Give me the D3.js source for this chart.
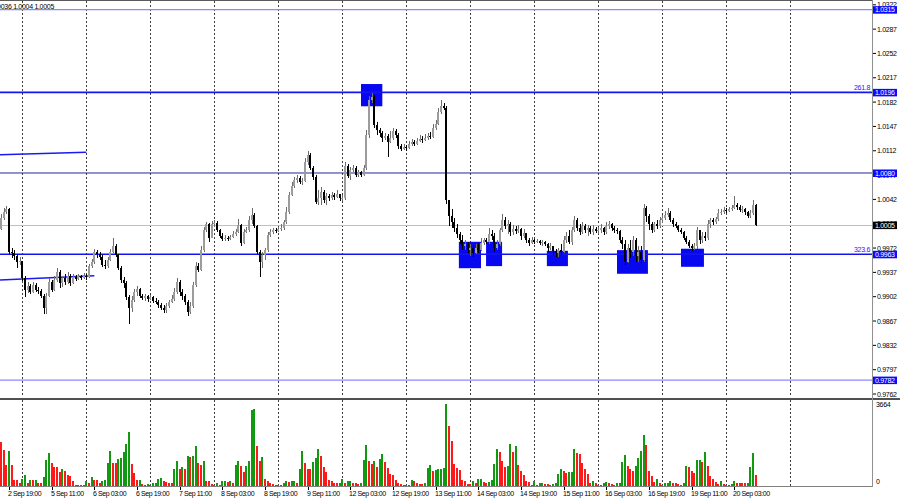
<!DOCTYPE html>
<html>
<head>
<meta charset="utf-8">
<script src="https://cdn.jsdelivr.net/npm/d3@7/dist/d3.min.js"></script>
<style>
  html, body { margin: 0; padding: 0; background: #fff; }
  svg { display: block; font-family: "Liberation Sans", Arial, sans-serif; }
</style>
</head>
<body>
<script>
// EURUSD H1, 2 Sep - 20 Sep
const tradingDays = ["2 Sep", "5 Sep", "6 Sep", "7 Sep", "8 Sep", "9 Sep", "12 Sep", "13 Sep",
    "14 Sep", "15 Sep", "16 Sep", "19 Sep", "20 Sep", "21 Sep"];
const firstHour = 16;   // first visible bar of 2 Sep
const lastHour = 11;    // last bar of 20 Sep

const firstOpen = 0.9999;
const closes = [
    1.0015,1.0024,1.0028,0.9966,0.9965,0.9961,0.9952,0.9953,0.9929,0.9912,0.9917,0.9909,
    0.9919,0.9912,0.9910,0.9903,0.9886,0.9903,0.9923,0.9912,0.9926,0.9938,0.9922,0.9929,
    0.9923,0.9932,0.9922,0.9930,0.9927,0.9932,0.9929,0.9932,0.9930,0.9946,0.9952,0.9966,
    0.9963,0.9959,0.9948,0.9946,0.9955,0.9966,0.9975,0.9962,0.9943,0.9926,0.9922,0.9902,
    0.9886,0.9897,0.9909,0.9913,0.9903,0.9900,0.9903,0.9899,0.9902,0.9896,0.9894,0.9890,
    0.9886,0.9883,0.9889,0.9894,0.9899,0.9909,0.9923,0.9909,0.9903,0.9894,0.9880,0.9889,
    0.9919,0.9946,0.9940,0.9969,0.9998,1.0007,0.9986,1.0007,1.0008,0.9998,0.9989,0.9985,
    0.9986,0.9985,0.9988,0.9992,0.9995,1.0005,0.9979,0.9995,0.9998,1.0012,1.0020,1.0004,
    0.9966,0.9952,0.9962,0.9969,0.9991,0.9995,0.9998,0.9997,0.9999,1.0001,1.0010,1.0024,
    1.0048,1.0061,1.0070,1.0073,1.0067,1.0068,1.0096,1.0106,1.0087,1.0074,1.0038,1.0044,
    1.0053,1.0041,1.0047,1.0044,1.0048,1.0045,1.0050,1.0044,1.0044,1.0090,1.0076,1.0084,
    1.0087,1.0077,1.0081,1.0077,1.0087,1.0135,1.0185,1.0189,1.0149,1.0142,1.0138,1.0130,
    1.0133,1.0125,1.0130,1.0140,1.0135,1.0119,1.0115,1.0117,1.0116,1.0122,1.0125,1.0122,
    1.0126,1.0129,1.0128,1.0130,1.0133,1.0132,1.0145,1.0151,1.0168,1.0176,1.0174,1.0041,
    1.0018,1.0010,1.0001,0.9992,0.9984,0.9975,0.9978,0.9969,0.9972,0.9965,0.9972,0.9969,
    0.9979,0.9984,0.9981,0.9992,0.9989,0.9972,0.9978,0.9998,1.0012,1.0004,1.0007,0.9995,
    0.9999,0.9997,0.9999,0.9989,0.9994,0.9984,0.9979,0.9984,0.9981,0.9982,0.9979,0.9981,
    0.9978,0.9972,0.9975,0.9968,0.9965,0.9969,0.9966,0.9984,0.9989,0.9981,0.9998,1.0012,
    1.0001,0.9995,1.0004,0.9998,1.0001,0.9995,0.9999,0.9997,0.9998,1.0001,0.9995,1.0004,
    1.0007,1.0001,0.9998,0.9997,0.9984,0.9978,0.9952,0.9972,0.9966,0.9984,0.9961,0.9966,
    0.9955,1.0030,1.0018,1.0007,0.9998,1.0007,1.0004,1.0012,1.0015,1.0020,1.0022,1.0012,
    1.0007,1.0004,0.9998,0.9995,0.9986,0.9981,0.9975,0.9972,0.9975,0.9998,0.9984,0.9989,
    0.9986,1.0007,1.0012,1.0010,1.0014,1.0022,1.0024,1.0027,1.0025,1.0028,1.0030,1.0034,
    1.0031,1.0027,1.0028,1.0024,1.0018,1.0022,1.0034,1.0005
];
const highs = [
    1.0021,1.0030,1.0032,1.0030,0.9972,0.9969,0.9963,0.9959,0.9952,0.9932,0.9923,0.9920,
    0.9923,0.9922,0.9916,0.9913,0.9906,0.9907,0.9929,0.9926,0.9932,0.9943,0.9940,0.9932,
    0.9935,0.9938,0.9935,0.9935,0.9933,0.9935,0.9933,0.9936,0.9935,0.9949,0.9956,0.9971,
    0.9969,0.9966,0.9962,0.9955,0.9959,0.9971,0.9986,0.9978,0.9963,0.9946,0.9930,0.9925,
    0.9904,0.9903,0.9913,0.9917,0.9914,0.9906,0.9906,0.9904,0.9904,0.9903,0.9900,0.9897,
    0.9893,0.9890,0.9893,0.9897,0.9904,0.9914,0.9929,0.9926,0.9913,0.9906,0.9897,0.9894,
    0.9923,0.9952,0.9951,0.9975,1.0002,1.0010,1.0008,1.0011,1.0012,1.0011,0.9999,0.9994,
    0.9991,0.9989,0.9991,0.9997,0.9999,1.0014,1.0007,0.9999,1.0002,1.0018,1.0030,1.0022,
    1.0005,0.9969,0.9966,0.9972,0.9995,0.9999,1.0001,1.0001,1.0002,1.0007,1.0012,1.0031,
    1.0053,1.0067,1.0074,1.0077,1.0076,1.0073,1.0102,1.0112,1.0109,1.0090,1.0077,1.0055,
    1.0060,1.0055,1.0051,1.0050,1.0053,1.0051,1.0055,1.0050,1.0048,1.0096,1.0093,1.0089,
    1.0092,1.0090,1.0084,1.0083,1.0092,1.0142,1.0191,1.0195,1.0192,1.0153,1.0145,1.0140,
    1.0138,1.0136,1.0140,1.0145,1.0143,1.0138,1.0122,1.0122,1.0120,1.0126,1.0129,1.0128,
    1.0130,1.0135,1.0133,1.0136,1.0138,1.0139,1.0151,1.0156,1.0174,1.0185,1.0181,1.0176,
    1.0041,1.0028,1.0015,1.0007,0.9995,0.9991,0.9984,0.9981,0.9978,0.9976,0.9978,0.9979,
    0.9986,0.9986,0.9986,1.0001,0.9998,0.9994,0.9984,1.0001,1.0021,1.0017,1.0012,1.0010,
    1.0005,1.0004,1.0005,1.0001,0.9999,0.9994,0.9986,0.9988,0.9985,0.9985,0.9984,0.9984,
    0.9982,0.9979,0.9979,0.9975,0.9971,0.9972,0.9978,0.9989,0.9995,0.9998,1.0002,1.0018,
    1.0015,1.0007,1.0010,1.0007,1.0005,1.0004,1.0005,1.0002,1.0002,1.0007,1.0002,1.0010,
    1.0011,1.0008,1.0004,1.0001,0.9998,0.9988,0.9984,0.9978,0.9984,0.9989,0.9986,0.9975,
    0.9975,1.0035,1.0032,1.0021,1.0010,1.0010,1.0012,1.0017,1.0020,1.0025,1.0030,1.0025,
    1.0015,1.0010,1.0005,1.0001,0.9997,0.9989,0.9984,0.9978,0.9979,1.0002,0.9998,0.9995,
    0.9995,1.0012,1.0015,1.0015,1.0017,1.0028,1.0028,1.0031,1.0030,1.0031,1.0034,1.0047,
    1.0037,1.0034,1.0032,1.0030,1.0025,1.0027,1.0041,1.0036
];
const lows = [
    0.9998,1.0012,1.0021,0.9963,0.9958,0.9955,0.9943,0.9948,0.9925,0.9902,0.9907,0.9906,
    0.9907,0.9909,0.9906,0.9900,0.9877,0.9877,0.9902,0.9909,0.9910,0.9923,0.9914,0.9916,
    0.9919,0.9920,0.9917,0.9920,0.9925,0.9926,0.9926,0.9927,0.9926,0.9929,0.9943,0.9949,
    0.9958,0.9955,0.9945,0.9942,0.9943,0.9953,0.9965,0.9959,0.9940,0.9922,0.9914,0.9897,
    0.9863,0.9880,0.9894,0.9903,0.9900,0.9897,0.9896,0.9894,0.9897,0.9893,0.9891,0.9886,
    0.9883,0.9879,0.9879,0.9886,0.9893,0.9896,0.9906,0.9903,0.9897,0.9890,0.9874,0.9877,
    0.9886,0.9916,0.9938,0.9939,0.9966,0.9995,0.9981,0.9999,1.0002,0.9995,0.9986,0.9982,
    0.9982,0.9982,0.9984,0.9986,0.9989,0.9994,0.9975,0.9978,0.9994,0.9995,1.0007,1.0001,
    0.9963,0.9930,0.9943,0.9955,0.9966,0.9988,0.9992,0.9994,0.9995,0.9997,0.9998,1.0007,
    1.0021,1.0047,1.0058,1.0066,1.0064,1.0063,1.0067,1.0092,1.0084,1.0070,1.0035,1.0034,
    1.0034,1.0037,1.0034,1.0040,1.0041,1.0041,1.0044,1.0040,1.0040,1.0041,1.0073,1.0070,
    1.0081,1.0074,1.0074,1.0074,1.0076,1.0084,1.0130,1.0181,1.0145,1.0135,1.0132,1.0125,
    1.0128,1.0103,1.0123,1.0128,1.0130,1.0115,1.0112,1.0113,1.0112,1.0115,1.0119,1.0119,
    1.0120,1.0125,1.0123,1.0126,1.0128,1.0129,1.0130,1.0142,1.0149,1.0165,1.0171,1.0035,
    1.0004,1.0001,0.9995,0.9986,0.9978,0.9969,0.9969,0.9965,0.9961,0.9959,0.9963,0.9965,
    0.9968,0.9976,0.9978,0.9978,0.9984,0.9966,0.9969,0.9975,0.9995,0.9999,0.9992,0.9989,
    0.9991,0.9992,0.9994,0.9984,0.9986,0.9979,0.9975,0.9978,0.9978,0.9979,0.9976,0.9975,
    0.9975,0.9966,0.9969,0.9962,0.9959,0.9959,0.9962,0.9965,0.9979,0.9978,0.9976,0.9995,
    0.9997,0.9991,0.9992,0.9994,0.9989,0.9992,0.9991,0.9994,0.9992,0.9994,0.9991,0.9992,
    0.9999,0.9997,0.9994,0.9992,0.9979,0.9971,0.9948,0.9951,0.9958,0.9961,0.9952,0.9952,
    0.9951,0.9952,1.0010,0.9998,0.9994,0.9995,0.9999,1.0001,1.0008,1.0012,1.0017,1.0010,
    1.0002,1.0001,0.9995,0.9992,0.9984,0.9978,0.9972,0.9968,0.9969,0.9971,0.9978,0.9979,
    0.9982,0.9984,1.0001,1.0005,1.0007,1.0011,1.0020,1.0021,1.0022,1.0024,1.0025,1.0028,
    1.0027,1.0024,1.0022,1.0020,1.0015,1.0015,1.0020,1.0004
];
const volumes = [
    1980,1635,960,1560,960,255,250,135,
    330,480,150,285,280,290,150,135,390,1155,1500,1035,855,840,630,780,660,480,435,210,60,55,65,60,
    210,150,390,255,250,150,210,285,1035,1575,1050,1045,1200,1275,1530,1875,2400,975,600,255,270,75,60,105,
    60,135,150,330,340,210,200,150,140,780,1110,780,870,780,1335,1290,1350,1785,1050,960,1110,225,210,105,
    60,150,60,210,240,180,240,150,960,1110,885,630,900,1140,3400,3450,1800,1140,1290,330,240,150,90,60,
    60,30,150,210,200,210,220,150,780,1590,1050,750,745,1080,1260,1680,1335,855,630,255,210,150,120,150,
    330,150,210,215,150,140,105,150,1155,1860,1140,1005,1110,840,1230,1455,1080,810,540,480,255,150,105,60,
    60,30,255,210,150,105,100,150,810,960,660,705,750,780,800,3664,2700,2025,1005,825,705,285,210,105,
    100,210,150,330,335,180,150,200,285,1005,1650,1515,1140,840,885,1905,1530,1785,930,690,480,210,180,60,
    210,60,150,155,105,100,60,90,150,555,780,660,600,610,620,1650,1500,1455,1050,750,540,150,210,120,
    60,30,150,160,150,105,60,150,155,1080,1410,900,780,660,900,1260,1560,2280,1830,690,435,180,300,120,
    60,150,155,210,150,120,90,60,150,900,855,660,600,1155,1160,1080,1530,900,435,330,180,105,225,105,
    60,55,105,240,150,140,130,125,150,855,1500,480
];

const priceTicks = ["0.9762","0.9797","0.9832","0.9867","0.9902","0.9937","0.9972","1.0007","1.0042",
    "1.0077","1.0112","1.0147","1.0182","1.0217","1.0252","1.0287","1.0322"];
const timeLabels = ["2 Sep 19:00","5 Sep 11:00","6 Sep 03:00","6 Sep 19:00","7 Sep 11:00","8 Sep 03:00",
    "8 Sep 19:00","9 Sep 11:00","12 Sep 03:00","12 Sep 19:00","13 Sep 11:00","14 Sep 03:00","14 Sep 19:00",
    "15 Sep 11:00","16 Sep 03:00","16 Sep 19:00","19 Sep 11:00","20 Sep 03:00"];

// horizontal levels: price, style kind
const levelPrices = [1.0315, 1.0196, 1.0080, 0.9963, 0.9782];
const levelKinds = ["light", "strong", "thin", "strong", "light"];
const currentPrice = 1.0005;
const fiboLabels = [{text: "261.8", price: 1.0196}, {text: "323.6", price: 0.9963}];
const headerText = "EURUSD,H1  1.0012 1.0036 1.0004 1.0005";
const volumeMaxLabel = 3664;

// boxes: bar from / to, price top / bottom
const zones = [
    {b0: 135, b1: 143, top: 1.0208, bottom: 1.0176},
    {b0: 171.7, b1: 180, top: 0.9981, bottom: 0.9943},
    {b0: 181.9, b1: 187.9, top: 0.9981, bottom: 0.9946},
    {b0: 204.7, b1: 212.6, top: 0.9968, bottom: 0.9946},
    {b0: 231, b1: 242.6, top: 0.9969, bottom: 0.9935},
    {b0: 255, b1: 263.6, top: 0.9971, bottom: 0.9945}
];
// trend lines
const trendLines = [
    {b0: -1, p0: 1.0106, b1: 32, p1: 1.0110},
    {b0: -1, p0: 0.9926, b1: 35, p1: 0.9932}
];

// ---- bar times
const bars = [];
tradingDays.forEach((d, k) => {
    if (k === tradingDays.length - 1) return;
    const h0 = k === 0 ? firstHour : 0;
    const h1 = k === tradingDays.length - 2 ? lastHour : 23;
    for (let h = h0; h <= h1; h++) {
        bars.push({day: d, hour: h, label: d + " " + String(h).padStart(2, "0") + ":00"});
    }
});
const candles = bars.map((b, i) => {
    const o = i === 0 ? firstOpen : closes[i - 1];
    const c = closes[i];
    return {i: i, o: o, c: c, h: Math.max(highs[i], o, c), l: Math.min(lows[i], o, c), v: volumes[i]};
});

const W = 900, H = 500;
const axisX = 872;
const mainTop = 1, mainBottom = 397;
const volTop = 400, volBottom = 486;
const barStep = 8 / 3;

const svg = d3.select("body").append("svg").attr("width", W).attr("height", H);

const x = d3.scaleLinear().domain([0, bars.length - 1]).range([1, 1 + (bars.length - 1) * barStep]);
const y = d3.scaleLinear().domain([0.9762, 1.0322]).range([394, 4.8]);
const yVol = d3.scaleLinear().domain([0, volumeMaxLabel]).range([volBottom, 404.3]);

// ---- vertical grid at day starts (including next day)
const dayStarts = [];
bars.forEach((b, i) => { if (b.hour === 0) dayStarts.push(i); });
dayStarts.push(bars.length + (24 - lastHour - 1));
const grid = svg.append("g").attr("stroke", "#3c3c3c").attr("stroke-dasharray", "2,2").attr("shape-rendering", "crispEdges");
dayStarts.forEach(i => {
    const gx = Math.round(x(i)) + 0.5;
    grid.append("line").attr("x1", gx).attr("x2", gx).attr("y1", mainTop).attr("y2", mainBottom);
    grid.append("line").attr("x1", gx).attr("x2", gx).attr("y1", volTop).attr("y2", volBottom);
});

// ---- zones (background objects)
svg.append("g").selectAll("rect").data(zones).join("rect")
    .attr("x", d => x(d.b0))
    .attr("y", d => y(d.top))
    .attr("width", d => x(d.b1) - x(d.b0))
    .attr("height", d => y(d.bottom) - y(d.top))
    .attr("fill", "#0808f0");

// ---- current price line
svg.append("line")
    .attr("x1", 0).attr("x2", axisX)
    .attr("y1", Math.round(y(currentPrice)) + 0.5).attr("y2", Math.round(y(currentPrice)) + 0.5)
    .attr("stroke", "#c0c0c0").attr("stroke-width", 1);

// ---- horizontal levels
const levelStyle = {
    light: {stroke: "#8a8aff", width: 1.3},
    strong: {stroke: "#1414f0", width: 1.6},
    thin: {stroke: "#26269a", width: 1}
};
levelPrices.forEach((p, k) => {
    const st = levelStyle[levelKinds[k]];
    svg.append("line")
        .attr("x1", 0).attr("x2", axisX)
        .attr("y1", y(p)).attr("y2", y(p))
        .attr("stroke", st.stroke).attr("stroke-width", st.width);
});

// ---- trend lines
const line = d3.line().x(d => x(d[0])).y(d => y(d[1]));
trendLines.forEach(t => {
    svg.append("path")
        .attr("d", line([[t.b0, t.p0], [t.b1, t.p1]]))
        .attr("stroke", "#1a1af0").attr("stroke-width", 1.5).attr("fill", "none");
});

// ---- fibo level texts
svg.append("g").selectAll("text").data(fiboLabels).join("text")
    .attr("x", axisX - 2).attr("y", d => y(d.price) - 2)
    .attr("text-anchor", "end").attr("font-size", 7).attr("letter-spacing", -0.3)
    .attr("fill", "#2020ff").text(d => d.text);

// ---- candles
const cg = svg.append("g").attr("shape-rendering", "crispEdges");
candles.forEach(d => {
    const cx = Math.round(x(d.i));
    const up = d.c >= d.o;
    cg.append("rect")
        .attr("x", cx).attr("width", 1)
        .attr("y", y(d.h)).attr("height", Math.max(1, y(d.l) - y(d.h)))
        .attr("fill", up ? "#6e6e6e" : "#000000");
    const top = y(Math.max(d.o, d.c));
    const bot = y(Math.min(d.o, d.c));
    cg.append("rect")
        .attr("x", cx - 1).attr("width", 2)
        .attr("y", top).attr("height", Math.max(1, bot - top))
        .attr("fill", up ? "#9c9c9c" : "#000000");
});

// ---- volumes
svg.append("g").attr("shape-rendering", "crispEdges")
    .selectAll("rect").data(candles).join("rect")
    .attr("x", d => Math.round(x(d.i)) - 1)
    .attr("width", 2)
    .attr("y", d => yVol(d.v))
    .attr("height", d => volBottom - yVol(d.v))
    .attr("fill", (d, i) => (i > 0 && d.v > candles[i - 1].v) ? "#119a11" : "#ff1a1a");

// ---- frames
const frame = svg.append("g").attr("shape-rendering", "crispEdges");
frame.append("line").attr("x1", 0).attr("x2", axisX).attr("y1", 0.5).attr("y2", 0.5).attr("stroke", "#5a5a5a");
frame.append("line").attr("x1", 0).attr("x2", W).attr("y1", 398.5).attr("y2", 398.5).attr("stroke", "#505050").attr("stroke-width", 2);
frame.append("line").attr("x1", 0).attr("x2", axisX).attr("y1", volBottom + 0.5).attr("y2", volBottom + 0.5).attr("stroke", "#808080");
frame.append("line").attr("x1", axisX + 0.5).attr("x2", axisX + 0.5).attr("y1", 0).attr("y2", volBottom + 1).attr("stroke", "#909090");

// ---- price axis
const pa = svg.append("g").attr("font-size", 7).attr("letter-spacing", -0.3).attr("fill", "#000");
priceTicks.forEach(t => {
    const ty = y(+t);
    pa.append("line").attr("x1", axisX + 1).attr("x2", axisX + 4).attr("y1", ty).attr("y2", ty).attr("stroke", "#000");
    pa.append("text").attr("x", axisX + 5).attr("y", ty + 2.5).text(t);
});

// highlighted labels
const tags = levelPrices.map(p => ({p: p, bg: "#0a0aff"})).concat([{p: currentPrice, bg: "#000000"}]);
tags.forEach(t => {
    const ty = y(t.p);
    svg.append("rect").attr("x", axisX + 1).attr("y", ty - 3.5).attr("width", 24).attr("height", 7.5).attr("fill", t.bg);
    svg.append("text").attr("x", axisX + 3).attr("y", ty + 2.6)
        .attr("font-size", 7).attr("letter-spacing", -0.3).attr("fill", "#fff")
        .text(t.p.toFixed(4));
});

// volume axis labels
svg.append("text").attr("x", axisX + 4).attr("y", 407).attr("font-size", 7).attr("letter-spacing", -0.3).text(volumeMaxLabel);
svg.append("text").attr("x", axisX + 4).attr("y", 484).attr("font-size", 7).text("0");

// ---- time axis
const ta = svg.append("g").attr("font-size", 7).attr("letter-spacing", -0.4).attr("fill", "#000");
timeLabels.forEach(lbl => {
    const i = bars.findIndex(b => b.label === lbl);
    if (i < 0) return;
    const tx = Math.round(x(i));
    ta.append("line").attr("x1", tx + 0.5).attr("x2", tx + 0.5).attr("y1", volBottom + 1).attr("y2", volBottom + 4).attr("stroke", "#000");
    ta.append("text").attr("x", tx - 1).attr("y", 496).text(lbl);
});

// ---- header
svg.append("text").attr("x", 54).attr("y", 9).attr("text-anchor", "end")
    .attr("font-size", 7).attr("letter-spacing", -0.3).attr("fill", "#000").text(headerText);
</script>
</body>
</html>
